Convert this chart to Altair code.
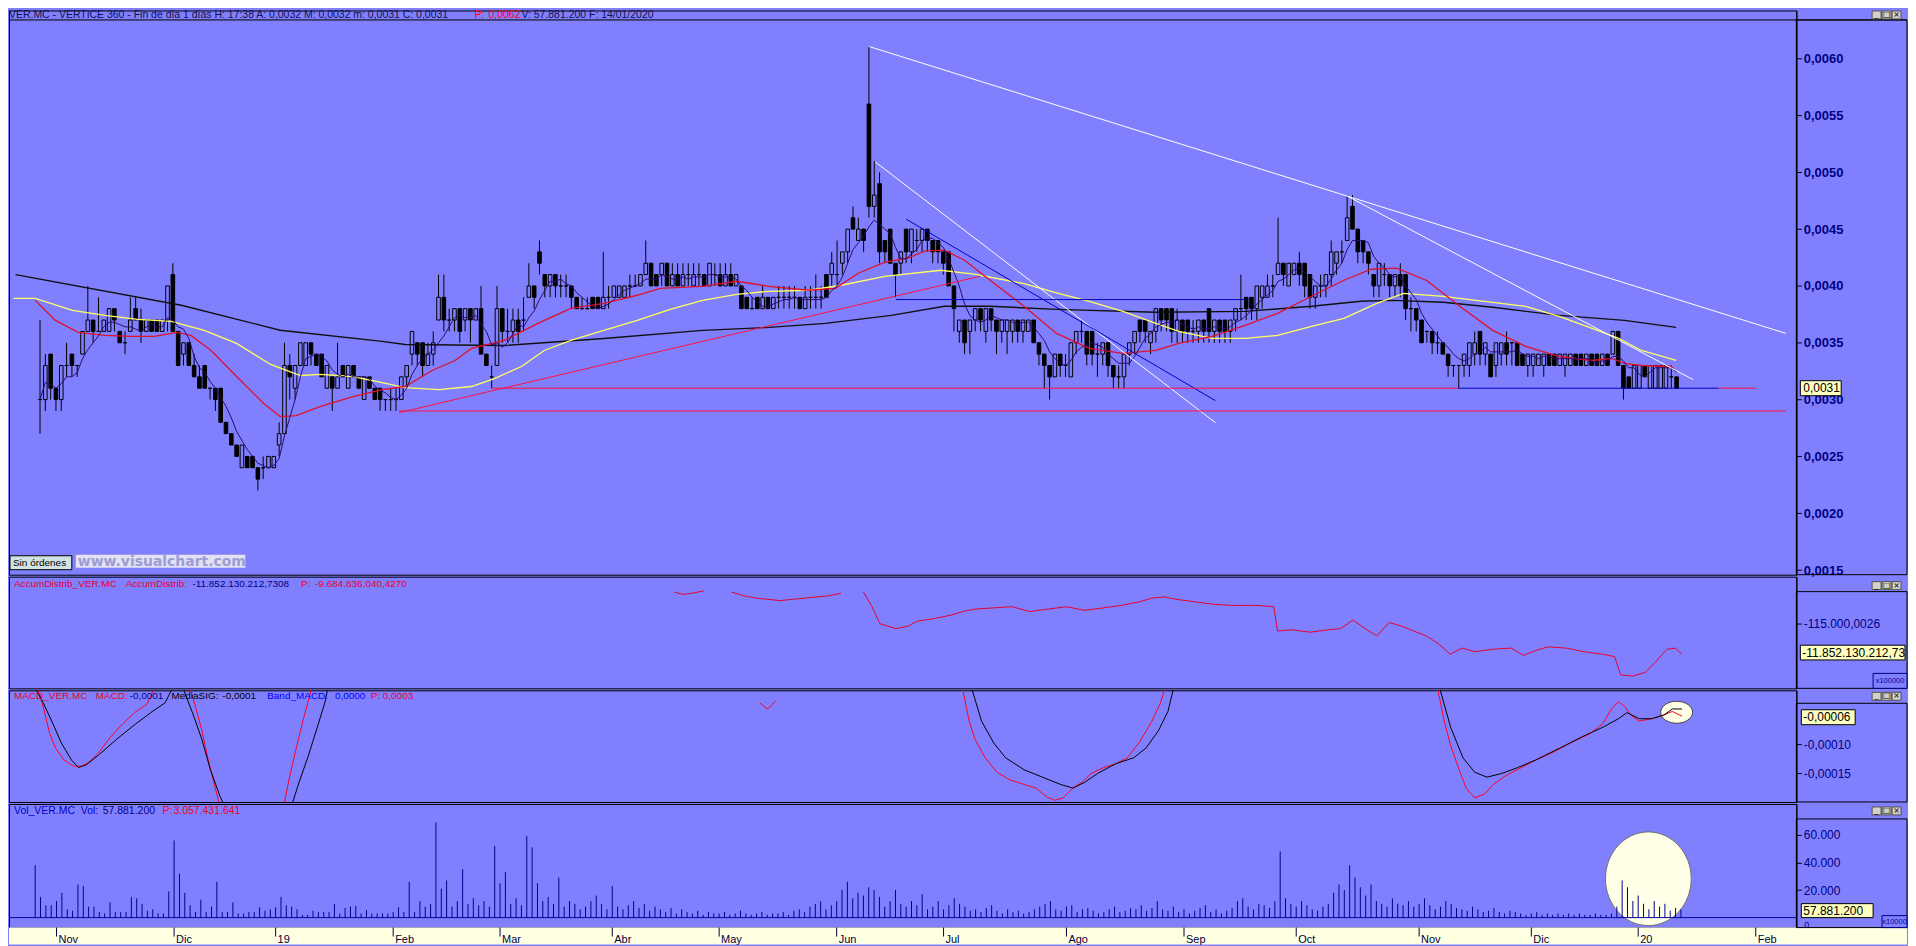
import altair as alt
import pandas as pd

FONT = "Liberation Sans"
BG = "#8080ff"
NAVY = "#000080"
RED = "#e8002a"

# ---------------- data (prices in units of 0,0001) ----------------
OPEN = [30,30,34,31,30,33,34,33,34,36, 37,36,36,36,38,36,35,36,38,37,
        36,37,37,36,37,41,36,34,35,33, 32,33,31,31,31,28,27,26,24,25,
        25,24,24,24,24,26,27,33,31,33, 33,35,34,34,31,32,31,33,31,33,
        32,30,32,31,31,30,30,30,30,32, 34,35,35,33,34,37,39,37,37,38,
        37,38,37,38,34,32,33,38,36,36, 37,37,39,40,43,41,40,41,40,40,
        40,39,38,38,39,39,38,39,39,39, 39,40,40,40,41,42,41,41,42,40,
        41,40,41,40,41,41,40,41,41,40, 41,40,40,39,38,39,38,39,38,39,
        39,39,39,39,38,39,39,39,41,41, 41,42,43,46,44,45,56,47,49,44,
        45,42,42,45,43,44,44,45,44,44, 43,43,40,36,37,36,37,38,36,38,
        37,36,36,36,37,36,36,37,35,34, 33,32,34,33,32,35,36,36,36,34,
        34,35,33,32,32,34,35,37,37,35, 36,38,38,38,36,37,37,36,36,37,
        38,36,37,37,36,37,38,39,39,38, 39,39,40,41,42,40,41,42,42,41,
        39,40,40,41,42,43,44,47,45,44, 43,41,40,41,41,40,41,41,38,38,
        37,36,36,35,35,34,33,33,33,33, 34,36,34,34,33,34,35,35,35,34,
        33,33,33,33,34,34,33,33,33,34, 34,33,34,34,33,34,34,36,33,32,
        31,31,33,31,31,31,31,32,32]
CLOSE = [30,33,31,30,33,33,33,33,36,37, 36,36,37,38,37,35,35,37,37,36,
         37,36,36,37,40,36,33,35,33,32, 31,31,31,30,28,27,26,25,26,24,
         24,23,24,25,25,27,33,32,33,35, 35,34,33,32,33,31,32,32,33,32,
         31,32,31,30,30,30,30,30,32,33, 36,34,33,34,35,39,37,37,38,36,
         38,37,38,34,33,32,38,36,36,37, 36,37,40,39,42,40,41,40,40,40,
         39,38,38,38,38,38,39,39,40,40, 40,40,40,41,42,40,40,42,40,41,
         40,41,41,41,41,40,42,41,40,41, 40,41,38,38,38,38,39,38,39,39,
         39,39,39,38,39,39,39,39,39,42, 41,43,45,45,45,44,47,48,43,43,
         42,41,43,43,45,44,45,44,43,43, 42,40,38,37,35,37,38,37,38,37,
         36,37,37,37,36,37,37,35,34,33, 32,34,33,33,35,36,36,34,34,34,
         35,33,32,32,34,35,36,36,36,36, 38,37,37,36,37,36,36,36,37,36,
         36,37,36,36,37,38,38,38,38,40, 40,40,40,42,41,42,42,41,40,39,
         40,40,41,43,43,43,46,45,43,43, 42,40,42,41,40,41,40,38,38,37,
         35,36,35,35,34,33,33,33,34,35, 35,34,35,32,35,35,34,35,33,33,
         34,34,34,34,33,33,34,34,34,33, 33,34,33,33,34,33,36,33,31,31,
         33,33,32,33,33,33,33,32,31]
HIGH = [37,34,34,31,33,35,34,33,36,40, 37,39,37,38,38,36,36,39,39,38,
        37,37,37,37,40,42,36,35,35,34, 33,33,31,31,31,28,27,26,26,25,
        25,24,25,25,25,28,35,34,33,35, 35,35,34,34,33,32,35,33,33,33,
        32,32,32,31,31,30,31,31,32,33, 36,35,35,35,36,41,41,38,38,38,
        38,38,38,40,34,33,40,38,38,38, 38,39,42,40,44,41,41,41,41,41,
        40,39,39,39,39,39,43,40,40,40, 40,41,41,41,44,42,41,42,42,42,
        42,42,42,42,42,41,42,42,42,42, 42,41,40,39,39,39,40,39,39,40,
        40,40,40,39,40,40,41,40,41,43, 44,43,45,47,46,45,61,51,50,44,
        45,42,43,45,45,45,45,45,44,44, 43,43,40,37,37,37,38,38,38,38,
        37,37,37,37,37,37,37,37,35,34, 33,34,34,34,35,36,37,36,36,35,
        35,35,33,33,34,35,36,37,37,36, 38,38,38,38,38,37,37,37,37,37,
        38,37,37,37,37,38,41,39,39,40, 40,41,41,46,42,42,42,43,42,41,
        40,41,41,44,43,44,48,48,45,44, 43,41,42,42,41,41,42,41,39,38,
        37,36,36,36,35,34,33,33,34,35, 36,36,35,34,35,35,36,35,35,34,
        34,34,34,34,34,34,34,34,34,34, 34,34,34,34,34,34,36,36,33,32,
        33,33,33,33,33,33,33,33,32]
LOW = [27,29,30,29,29,32,32,32,34,36, 35,36,36,36,36,35,34,36,37,35,
       36,36,36,36,36,36,33,33,33,32, 31,31,30,29,28,27,26,25,24,24,
       24,22,23,24,24,25,27,30,30,33, 33,33,33,32,31,29,31,32,31,32,
       31,30,31,30,29,29,29,29,30,31, 33,33,32,33,33,37,36,36,36,35,
       36,35,37,34,33,31,33,35,35,35, 35,36,39,38,41,39,39,39,39,39,
       38,38,38,38,38,38,38,38,39,39, 39,39,40,40,41,40,40,40,40,40,
       40,40,40,40,40,40,40,40,40,40, 40,40,38,38,38,38,38,38,38,38,
       38,38,38,38,38,38,38,38,39,40, 40,41,42,45,44,43,46,46,42,42,
       42,39,41,42,42,43,43,43,42,42, 41,40,36,35,34,34,36,36,35,36,
       34,35,34,35,35,35,36,35,33,31, 30,32,32,32,32,34,35,33,33,32,
       33,32,31,31,31,33,34,35,35,34, 35,36,36,35,35,35,35,35,35,35,
       35,35,35,35,35,36,37,37,37,37, 38,39,39,41,40,40,41,40,39,38,
       38,39,39,40,41,42,44,45,42,42, 41,39,39,40,39,39,39,37,36,36,
       35,35,34,34,34,32,32,31,32,32, 33,33,33,32,32,33,33,33,33,33,
       32,32,33,32,33,33,33,32,33,33, 33,33,33,33,33,33,34,33,30,31,
       31,31,32,31,31,31,31,31,31]
# volume, in thousands of the axis unit (x10000 shares)
VOL_K = [38,15,9,9,12,18,6,5,24,23, 8,8,4,3,11,4,4,4,15,14,
         10,5,6,3,3,19,56,32,18,9, 4,13,4,8,26,4,4,11,3,3,
         4,4,7.5,5,6,7.5,15,9,8,6, 2,2,5,4,4,4,10,3,7,8,
         8.5,3,5.5,3,3,3,3,4,7.5,4, 26,4,12,8,10,69,21,27,8,12,
         35,10,14,9,12,8,52,25,33,10, 14,9,59,51,25,12,15,10,29,8,
         12,10,6,8,12,16,10,6,23,8, 6,9,12,7,10,5,8,6,4,7,
         3,6,4,3,5,2,4,3,3,4, 2,3,5,3,2,3,4,2,3,3,
         4,2,5,6,4,8,10,12,6,9, 12,20,26,14,18,16,22,20,15,8,
         12,20,10,8,12,9,17,6,8,12, 6,9,14,10,8,5,6,4,7,9,
         5,3,6,4,5,3,4,6,8,10, 12,6,5,8,9,4,6,7,5,3,
         4,6,8,4,5,7,6,9,5,7, 12,6,5,8,4,6,3,5,7,9,
         4,6,3,5,7,12,14,8,6,10, 9,7,12,48,14,10,8,12,9,6,
         5,8,10,18,24,20,38,29,22,16, 24,12,10,8,14,10,9,12,8,10,
         14,9,6,8,12,10,7,6,5,8, 6,4,5,7,4,3,5,4,3,2,
         3,4,2,3,2,3,2,3,2,3, 2,2,3,2,2,3,8,27,22,12,
         16,10,6,12,8,10,5,7,6]

MONTH_IDX = [4, 26, 45, 67, 87, 108, 128, 150, 170, 193, 215, 236, 259, 280, 300, 322]
MONTH_LBL = ["Nov", "Dic", "19", "Feb", "Mar", "Abr", "May", "Jun", "Jul", "Ago",
             "Sep", "Oct", "Nov", "Dic", "20", "Feb"]

MA_LONG = [(-4.6, 41.0), (26.6, 38.3), (45.2, 36.1), (64.4, 35.12), (68.7, 34.85), (87.4, 34.76),
           (106.1, 35.38), (124.7, 36.09), (137.2, 36.35), (147.8, 36.71), (160.2, 37.41),
           (170.2, 38.21), (178.8, 38.21), (191.3, 37.94), (210.0, 37.68), (226.8, 37.76),
           (239.3, 38.21), (248.6, 38.65), (254.7, 38.73), (264.1, 38.56), (273.4, 38.12),
           (285.9, 37.41), (298.2, 36.97), (307.9, 36.35)]
MA_YELLOW = [(-5.0, 38.91), (-0.9, 38.91), (6.1, 37.85), (12.2, 37.41), (18.4, 37.06), (24.7, 36.88),
             (30.9, 36.09), (37.0, 34.94), (43.4, 33.09), (49.0, 32.12), (52.7, 32.21), (58.9, 32.03),
             (64.4, 31.50), (68.7, 31.06), (75.1, 30.88), (81.2, 31.15), (85.5, 31.85), (90.6, 32.91),
             (94.9, 34.32), (99.9, 35.21), (106.1, 36.09), (112.4, 36.97), (118.6, 37.94),
             (124.7, 38.73), (131.1, 39.26), (137.2, 39.53), (144.7, 39.62), (150.8, 40.06),
             (159.0, 40.85), (169.5, 41.38), (175.8, 41.03), (185.2, 40.2), (191.3, 39.4),
             (197.5, 38.65), (203.8, 37.76), (210.0, 36.71), (214.3, 36.0), (220.6, 35.38),
             (226.8, 35.38), (232.9, 35.65), (239.3, 36.44), (245.4, 37.15), (251.6, 38.47),
             (256.6, 39.35), (264.1, 39.09), (273.4, 38.56), (279.6, 38.21), (285.9, 37.32),
             (292.1, 36.26), (297.1, 35.38), (301.4, 34.32), (307.9, 33.44)]
MA_RED = [(-0.9, 38.73), (2.9, 36.97), (7.2, 35.91), (12.2, 35.65), (17.2, 35.56), (21.5, 35.56),
          (25.8, 35.91), (28.4, 35.65), (32.2, 34.32), (37.0, 32.03), (42.1, 29.65), (45.2, 28.50),
          (48.2, 28.59), (52.7, 29.38), (58.9, 30.26), (64.4, 30.88), (68.7, 31.15), (73.8, 32.56),
          (78.1, 33.44), (81.2, 34.50), (87.4, 35.21), (93.7, 36.71), (99.9, 38.03), (106.1, 38.47),
          (112.4, 39.18), (116.7, 39.79), (124.7, 39.97), (131.1, 40.41), (137.2, 39.97),
          (144.7, 39.62), (149.7, 39.79), (154.0, 41.12), (159.0, 42.09), (163.3, 42.44),
          (166.5, 43.06), (170.2, 43.15), (174.0, 42.26), (178.8, 40.50), (185.2, 38.21),
          (191.3, 35.82), (197.5, 34.50), (203.8, 34.06), (210.0, 34.32), (214.3, 34.94),
          (220.6, 35.56), (226.8, 36.53), (232.9, 37.59), (239.3, 39.09), (245.4, 40.50),
          (250.5, 41.47), (255.3, 41.56), (260.9, 40.50), (267.2, 38.21), (273.4, 36.09),
          (279.6, 34.68), (285.9, 33.79), (292.1, 33.44), (295.8, 33.62), (298.2, 33.18),
          (301.4, 33.0), (307.0, 32.91), (307.9, 32.47)]

# trend lines: (i1, p1, i2, p2, colour)
TRENDS = [(156.1, 61.06, 328.6, 35.82, "white"),
          (246.0, 47.91, 311.1, 31.76, "white"),
          (157.2, 50.91, 221.2, 27.97, "white"),
          (163.0, 45.88, 221.2, 29.91, "#0000c0"),
          (161.1, 38.8, 226.8, 38.8, "#0000c0"),
          (67.6, 28.85, 176.9, 40.85, "#ff1040"),
          (85.0, 31.0, 266.9, 31.0, "#ff1040"),
          (266.9, 31.0, 315.9, 31.0, "#0000c0"),
          (315.9, 31.0, 323.0, 31.0, "#ff1040"),
          (67.6, 29.0, 328.6, 29.0, "#ff1040")]

# Accumulation/Distribution (x100000), segments
AD = [
    [(119.6, -111366), (121.2, -111642), (123.0, -111504), (125.1, -111228)],
    [(130.3, -111366), (132.6, -111791), (134.9, -112068), (137.1, -112206), (139.4, -112355),
     (141.7, -112206), (144.0, -112068), (146.3, -111930), (148.6, -111791), (150.8, -111504)],
    [(155.0, -111366), (156.5, -112907), (158.1, -115023), (161.1, -115587), (163.4, -115299),
     (165.0, -114736), (168.0, -114460), (171.4, -114034), (173.6, -113620), (175.9, -113333),
     (179.3, -113195), (182.8, -113056), (186.2, -113620), (189.6, -113333), (193.0, -113056),
     (196.4, -113471), (199.9, -113195), (203.3, -112907), (206.7, -112493), (209.0, -112068),
     (211.3, -111930), (213.5, -112206), (217.0, -112493), (220.4, -112769), (223.8, -112907),
     (228.4, -112907), (231.8, -113056), (232.5, -115863), (235.2, -115725), (238.6, -116001),
     (242.0, -115725), (244.3, -115587), (246.6, -114598), (248.9, -115587), (251.1, -116426),
     (253.4, -114874), (255.7, -115299), (258.0, -115863), (260.3, -116426), (262.5, -117266),
     (264.8, -118531), (267.1, -117829), (269.4, -118255), (272.8, -117967), (276.2, -117829),
     (278.5, -118669), (280.8, -118117), (283.1, -117691), (286.5, -117829), (289.9, -118255),
     (293.3, -118531), (295.6, -118818), (296.7, -120923), (299.0, -121061), (301.3, -120635),
     (303.1, -119520), (305.4, -117967), (307.0, -117829), (308.1, -118521)],
]

# MACD and signal, in units of 0,00001
MACD = [
    [(0.4, -0.3), (1.5, -3.61), (2.7, -8.15), (3.8, -10.64), (5.4, -12.71), (7.2, -13.75), (8.6, -13.75),
     (10.0, -13.13), (11.8, -11.5), (14.1, -8.8), (16.4, -6.51), (18.6, -4.64), (20.9, -3.2), (22.5, -0.3)],
    [(28.9, -0.3), (30.0, -3.61), (31.2, -7.7), (32.3, -12.31), (33.7, -17.47), (34.6, -20.6)],
    [(46.5, -20.6), (47.4, -16.44), (48.7, -11.27), (50.1, -6.08), (51.8, -0.3)],
    [(135.6, -2.98), (137.0, -4.02), (137.6, -3.61), (138.6, -2.6)],
    [(173.5, -0.3), (174.8, -6.08), (175.9, -9.2), (177.8, -12.31), (180.0, -14.78), (182.3, -16.03),
     (185.1, -16.85), (187.3, -17.47), (189.2, -18.9), (190.8, -19.54), (192.4, -19.13), (194.2, -17.47),
     (196.0, -16.44), (197.6, -15.0), (199.9, -14.0), (202.2, -13.34), (204.4, -12.31), (206.7, -9.6),
     (209.0, -6.08), (210.6, -2.98), (211.5, -0.3)],
    [(262.4, -0.3), (263.7, -6.08), (264.9, -10.24), (266.5, -14.37), (267.8, -17.47), (269.4, -19.13),
     (271.2, -18.51), (272.9, -16.85), (275.1, -15.41), (278.1, -14.0), (280.8, -12.71), (284.3, -11.27),
     (287.7, -9.6), (291.1, -8.15), (293.4, -6.51), (295.0, -4.02), (296.3, -2.8), (297.5, -3.61),
     (298.6, -5.05), (300.2, -6.08), (302.5, -5.68), (304.8, -5.05), (306.4, -4.43), (308.2, -5.25)],
]
SIGNAL = [
    [(-0.1, -0.3), (1.5, -2.98), (3.1, -6.08), (4.9, -9.8), (6.8, -12.71), (8.1, -13.97), (9.5, -13.54),
     (11.8, -11.9), (15.2, -9.2), (18.6, -6.7), (22.0, -4.4), (24.3, -2.98), (25.8, -0.3)],
    [(27.6, -0.3), (29.6, -5.05), (31.2, -9.2), (32.8, -14.37), (34.6, -18.9), (35.7, -21.0)],
    [(47.8, -21.0), (49.4, -16.44), (51.0, -12.31), (52.8, -7.12), (54.2, -2.98), (54.8, -0.3)],
    [(175.2, -0.3), (177.1, -6.08), (179.4, -9.8), (181.6, -12.31), (185.1, -14.37), (188.5, -15.61),
     (191.9, -16.85), (194.2, -17.47), (196.5, -16.44), (198.8, -15.0), (202.2, -13.34), (205.6, -12.31),
     (207.9, -10.64), (210.2, -7.74), (212.0, -4.43), (213.1, -0.3)],
    [(262.8, -0.3), (264.9, -7.12), (267.2, -12.31), (269.4, -14.78), (271.7, -15.61), (274.4, -15.0),
     (277.4, -14.0), (280.8, -12.71), (285.4, -10.64), (289.9, -8.58), (293.4, -7.12), (296.3, -5.68),
     (297.9, -4.64), (300.2, -5.68), (302.5, -5.68), (304.8, -5.05), (306.4, -4.02), (308.2, -4.02)],
]

# ---------------- frames ----------------
n = len(CLOSE)
bars = pd.DataFrame({"i": list(range(n)), "o": OPEN, "h": HIGH, "l": LOW, "c": CLOSE,
                     "v": [k * 1000 for k in VOL_K]})
bars["hi"] = bars[["o", "c"]].max(axis=1)
bars["lo"] = bars[["o", "c"]].min(axis=1)
bars["h"] = bars[["h", "hi"]].max(axis=1)
bars["l"] = bars[["l", "lo"]].min(axis=1)
bars["dir"] = ["up" if c >= o else "down" for o, c in zip(bars["o"], bars["c"])]
bars["z"] = 0


def pairs(lst, name="p"):
    return pd.DataFrame({"i": [a for a, _ in lst], name: [b for _, b in lst]})


def segs(groups, tag):
    rows = []
    for s, g in enumerate(groups):
        for a, b in g:
            rows.append({"i": a, "v": b, "seg": f"{tag}{s}", "line": tag})
    return pd.DataFrame(rows)


trend_df = pd.DataFrame(TRENDS, columns=["i1", "p1", "i2", "p2", "col"])
ad_df = segs(AD, "ad")
macd_df = pd.concat([segs(MACD, "macd"), segs(SIGNAL, "sig")], ignore_index=True)
month_df = pd.DataFrame({"i": MONTH_IDX, "lbl": MONTH_LBL})

# ---------------- layout helpers ----------------
W = 1793
HM, HA, HC, HV = 566, 112, 112, 124
XS = alt.Scale(domain=[-4.9, 329.6], nice=False, zero=False)
ONE = pd.DataFrame({"k": [0]})


def X(f="i"):
    return alt.X(f + ":Q", scale=XS, axis=None, title=None)


def rect(x1, x2, y1, y2, fill=None, stroke=None, sw=1):
    kw = {"fill": fill if fill else "white", "fillOpacity": 1 if fill else 0}
    if stroke:
        kw["stroke"] = stroke
        kw["strokeWidth"] = sw
    return alt.Chart(ONE).mark_rect(**kw).encode(
        x=alt.value(x1), x2=alt.value(x2), y=alt.value(y1), y2=alt.value(y2))


def text(x, y, s, color, size=10, font=FONT, weight="normal", align="left", baseline="middle"):
    return alt.Chart(ONE).mark_text(align=align, baseline=baseline, font=font, fontSize=size,
                                    fontWeight=weight, color=color).encode(
        x=alt.value(x), y=alt.value(y), text=alt.value(s))


def hline(x1, x2, y, color, sw=1):
    return alt.Chart(ONE).mark_rule(color=color, strokeWidth=sw).encode(
        x=alt.value(x1), x2=alt.value(x2), y=alt.value(y))


def buttons(y):
    out = []
    for k, g in enumerate(["_", "□", "×"]):
        x0 = 1869 + 10 * k
        out.append(rect(x0, x0 + 9, y, y + 8, fill="#d4d0c8", stroke="#505050"))
        out.append(text(x0 + 4.5, y + 4, g, "black", size=8, font="DejaVu Sans", align="center"))
    return out


def axis_r(values, expr, bold=False, size=12):
    return alt.Axis(orient="right", values=values, labelExpr=expr, labelFont=FONT,
                    labelFontSize=size, labelFontWeight="bold" if bold else "normal",
                    labelColor=NAVY, tickSize=5, tickColor="black", domainColor="black",
                    labelPadding=2, grid=False, title=None, labelOverlap=False, labelBound=False)


# ---------------- main price panel ----------------
YM = alt.Scale(domain=[14.59, 64.24], nice=False, zero=False)
AX_M = axis_r(list(range(15, 61, 5)), "'0,00' + datum.value", bold=True, size=13)


def YMf(f):
    return alt.Y(f, scale=YM, axis=AX_M, title=None)


wick = alt.Chart(bars).mark_rule(color="black", strokeWidth=1).encode(
    x=X(), y=YMf("l:Q"), y2="h:Q")
body = alt.Chart(bars).mark_bar(width=3.6, stroke="black", strokeWidth=1).encode(
    x=X(), y=YMf("lo:Q"), y2="hi:Q",
    fill=alt.Fill("dir:N", scale=alt.Scale(domain=["up", "down"], range=[BG, "black"]), legend=None))
short_ma = alt.Chart(bars).transform_window(
    ma="mean(c)", frame=[-4, 0], sort=[alt.SortField("i")]
).mark_line(color="#2a0a6a", strokeWidth=1, clip=True).encode(x=X(), y=YMf("ma:Q"))


def ma_line(lst, color, sw):
    return alt.Chart(pairs(lst)).mark_line(color=color, strokeWidth=sw, clip=True).encode(
        x=X(), y=YMf("p:Q"), order="i:Q")


trend = alt.Chart(trend_df).mark_rule(strokeWidth=1, clip=True).encode(
    x=X("i1"), x2="i2:Q", y=YMf("p1:Q"), y2="p2:Q", color=alt.Color("col:N", scale=None))

main_box = alt.Chart(ONE).mark_rect(fill="#ffffc0", stroke="black", strokeWidth=1).encode(
    x=alt.value(1797), x2=alt.value(1838),
    y=alt.Y(datum=31.66, scale=YM, axis=AX_M, title=None), y2=alt.Y2(datum=30.34))
main_box_t = alt.Chart(ONE).mark_text(align="left", baseline="middle", font=FONT, fontSize=12,
                                      color="black").encode(
    x=alt.value(1800), y=alt.Y(datum=31, scale=YM, axis=AX_M, title=None), text=alt.value("0,0031"))

TD = "#101050"
main = alt.layer(
    rect(1793, 1904, 9.5, HM, stroke="black"),
    hline(0, 1904, 9.5, "black"),
    *buttons(0.5),
    wick, body,
    ma_line(MA_LONG, "#101010", 1.4),
    ma_line(MA_YELLOW, "#ffff60", 1.3),
    ma_line(MA_RED, "#e0102a", 1.3),
    short_ma,
    trend,
    rect(1, 63, 547, 561, fill="#cfe3e3", stroke="black"),
    text(4, 554, "Sin órdenes", "black", size=10),
    rect(67, 237, 546, 559, fill="#e2e2f2"),
    text(69, 553, "www.visualchart.com", "#9c9cd6", size=14, font="DejaVu Sans", weight="bold"),
    main_box, main_box_t,
    text(0, 0, "VER.MC - VERTICE 360 - Fin de día 1 días H: 17:38 A: 0,0032 M: 0,0032 m: 0,0031 C: 0,0031",
         TD, size=10.5, baseline="top"),
    text(467, 0, "P:", "#ff0000", size=10.5, baseline="top"),
    text(481, 0, "0,0062", "#ff0000", size=10.5, baseline="top"),
    text(514, 0, "V: 57.881.200 F: 14/01/2020", TD, size=10.5, baseline="top"),
).properties(width=W, height=HM)

# ---------------- Accumulation / Distribution ----------------
YA = alt.Scale(domain=[-122475, -109595], nice=False, zero=False)
AX_A = axis_r([-115000], "'-115.000,0026'")
ad_line = alt.Chart(ad_df).mark_line(color=RED, strokeWidth=1, clip=True).encode(
    x=X(), y=alt.Y("v:Q", scale=YA, axis=AX_A, title=None), detail="seg:N", order="i:Q")
ad_box = alt.Chart(ONE).mark_rect(fill="#ffffc0", stroke="black", strokeWidth=1).encode(
    x=alt.value(1797), x2=alt.value(1902),
    y=alt.Y(datum=-117500, scale=YA, axis=AX_A, title=None), y2=alt.Y2(datum=-119200))
ad_box_t = alt.Chart(ONE).mark_text(align="left", baseline="middle", font=FONT, fontSize=12,
                                    color="black").encode(
    x=alt.value(1799), y=alt.Y(datum=-118350, scale=YA, axis=AX_A, title=None),
    text=alt.value("-11.852.130.212,73"))
ad = alt.layer(
    rect(1793, 1904, 15, HA, stroke="black"),
    *buttons(5),
    ad_line, ad_box, ad_box_t,
    rect(1870, 1904, 97, HA, fill=BG, stroke="#000080"),
    text(1887, 104.5, "x100000", "#0000a0", size=7.5, align="center"),
    text(5, 7, "AccumDistrib_VER.MC", RED),
    text(117, 7, "AccumDistrib:", RED),
    text(184, 7, "-11.852.130.212,7308", NAVY),
    text(293, 7, "P:", RED),
    text(307, 7, "-9.684.836.040,4270", RED),
).properties(width=W, height=HA)

# ---------------- MACD ----------------
YC = alt.Scale(domain=[-19.83, -0.85], nice=False, zero=False)
AX_C = axis_r([-10, -15], "'-0,000' + (-datum.value)")
macd_ell = alt.Chart(ONE).mark_point(
    shape="M -1 0 A 1 0.69 0 1 1 1 0 A 1 0.69 0 1 1 -1 0 Z", size=1024, filled=True,
    fill="#ffffe8", fillOpacity=1, stroke="#404040", strokeWidth=1, opacity=1).encode(
    x=alt.X(datum=307.2, scale=XS, axis=None), y=alt.Y(datum=-4.58, scale=YC, axis=AX_C, title=None))
macd_lines = alt.Chart(macd_df).mark_line(strokeWidth=1, clip=True).encode(
    x=X(), y=alt.Y("v:Q", scale=YC, axis=AX_C, title=None),
    color=alt.Color("line:N", scale=alt.Scale(domain=["macd", "sig"], range=["#ff0020", "#000000"]),
                    legend=None),
    detail="seg:N", order="i:Q")
macd_box = alt.Chart(ONE).mark_rect(fill="#ffffc0", stroke="black", strokeWidth=1).encode(
    x=alt.value(1798), x2=alt.value(1852),
    y=alt.Y(datum=-4.15, scale=YC, axis=AX_C, title=None), y2=alt.Y2(datum=-6.69))
macd_box_t = alt.Chart(ONE).mark_text(align="left", baseline="middle", font=FONT, fontSize=12,
                                      color="black").encode(
    x=alt.value(1800), y=alt.Y(datum=-5.42, scale=YC, axis=AX_C, title=None), text=alt.value("-0,00006"))
macd = alt.layer(
    rect(1793, 1904, 13, HC, stroke="black"),
    *buttons(2),
    macd_ell, macd_lines, macd_box, macd_box_t,
    text(5, 6, "MACD_VER.MC", RED),
    text(87, 6, "MACD:", RED),
    text(121, 6, "-0,0001", NAVY),
    text(163, 6, "MediaSIG:", "black"),
    text(214, 6, "-0,0001", "black"),
    text(259, 6, "Band_MACD:", "#0000ff"),
    text(327, 6, "0,0000", "#0000ff"),
    text(363, 6, "P:", RED),
    text(375, 6, "0,0003", RED),
).properties(width=W, height=HC)

# ---------------- Volume ----------------
YV = alt.Scale(domain=[-7230, 82422], nice=False, zero=False)
AX_V = axis_r([20000, 40000, 60000], "(datum.value / 1000) + '.000'")
band = rect(0, 1904, HV, HV + 17, fill="#ffffe1")
month_ticks = alt.Chart(month_df).mark_rule(color="#000040", strokeWidth=1).encode(
    x=X(), y=alt.value(HV), y2=alt.value(HV + 9))
month_text = alt.Chart(month_df).mark_text(align="left", baseline="alphabetic", dx=2, font=FONT,
                                           fontSize=11, color="#000040").encode(
    x=X(), y=alt.value(HV + 15), text="lbl:N")
vol_ell = alt.Chart(ONE).mark_point(
    shape="M -0.915 0 A 0.915 1 0 1 1 0.915 0 A 0.915 1 0 1 1 -0.915 0 Z", size=8836, filled=True,
    fill="#ffffe8", fillOpacity=1, stroke="#707070", strokeWidth=1, opacity=1).encode(
    x=alt.X(datum=301.9, scale=XS, axis=None), y=alt.Y(datum=28200, scale=YV, axis=AX_V, title=None))
vol_base = alt.Chart(ONE).mark_rule(color="#0000a0", strokeWidth=1).encode(
    x=alt.value(0), x2=alt.value(W), y=alt.Y(datum=0, scale=YV, axis=AX_V, title=None))
vol_bars = alt.Chart(bars).mark_rule(color="#000090", strokeWidth=1).encode(
    x=X(), y=alt.Y("v:Q", scale=YV, axis=AX_V, title=None), y2="z:Q")
vol_box = alt.Chart(ONE).mark_rect(fill="#ffffc0", stroke="black", strokeWidth=1).encode(
    x=alt.value(1798), x2=alt.value(1870),
    y=alt.Y(datum=10122, scale=YV, axis=AX_V, title=None), y2=alt.Y2(datum=0))
vol_box_t = alt.Chart(ONE).mark_text(align="left", baseline="middle", font=FONT, fontSize=12,
                                     color="black").encode(
    x=alt.value(1800), y=alt.Y(datum=5061, scale=YV, axis=AX_V, title=None), text=alt.value("57.881.200"))
vol = alt.layer(
    band, month_ticks, month_text,
    rect(1793, 1904, 15, HV, stroke="black"),
    *buttons(3),
    vol_ell, vol_base, vol_bars, vol_box, vol_box_t,
    rect(1879, 1904, 112, HV, fill=BG, stroke="#000080"),
    text(1891.5, 118, "x10000", "#0000a0", size=7.5, align="center"),
    text(1801, 121, "0", NAVY, size=9),
    text(5, 7, "Vol_VER.MC", "#0000c0", size=10.5),
    text(72, 7, "Vol:", "#0000c0", size=10.5),
    text(94, 7, "57.881.200", NAVY, size=10.5),
    text(154, 7, "P:", RED, size=10.5),
    text(165, 7, "3.057.431.641", RED, size=10.5),
).properties(width=W, height=HV)

chart = alt.vconcat(main, ad, macd, vol, spacing=2, bounds="flush").properties(
    padding=0, background=BG
).configure_view(stroke="black", strokeWidth=1, fill=BG)

chart.save("out.html", embed_options={"renderer": "svg", "actions": False})
